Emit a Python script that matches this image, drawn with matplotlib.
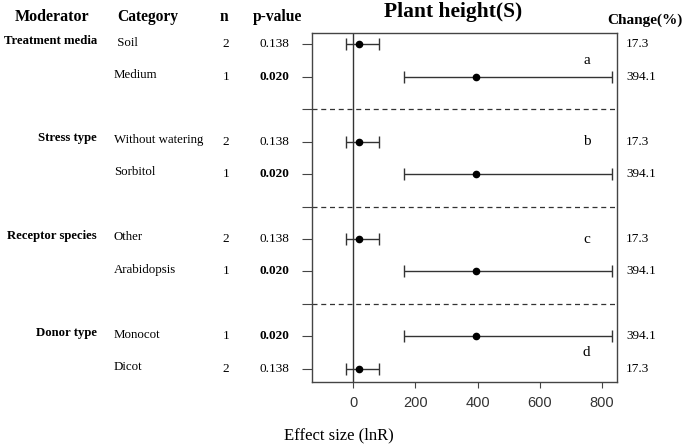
import matplotlib
matplotlib.use("Agg")
import matplotlib.pyplot as plt
import matplotlib.transforms as mtransforms
import numpy as np

# data
moderators = ["Treatment media", "Stress type", "Receptor species", "Donor type"]
categories = ["Soil", "Medium", "Without watering", "Sorbitol",
              "Other", "Arabidopsis", "Monocot", "Dicot"]
n_obs = [2, 1, 2, 1, 2, 1, 1, 2]
p_values = ["0.138", "0.020", "0.138", "0.020", "0.138", "0.020", "0.020", "0.138"]
effect = [17.3, 394.1, 17.3, 394.1, 17.3, 394.1, 394.1, 17.3]
ci_low = [-24, 164, -24, 164, -24, 164, 164, -24]
ci_high = [84, 831, 84, 831, 84, 831, 831, 84]
change = ["17.3", "394.1", "17.3", "394.1", "17.3", "394.1", "394.1", "17.3"]
letters = ["a", "b", "c", "d"]

# row layout (top to bottom)
rows = [11, 10, 8, 7, 5, 4, 2, 1]
separators = [9, 6, 3]
mod_rows = [11, 8, 5, 2]
letter_rows = [10.5, 8, 5, 1.5]

serif = "Liberation Serif"
sans = "Liberation Sans"
axcol = "#444444"

fig = plt.figure(figsize=(6.85, 4.45), dpi=100, facecolor="white")
ax = fig.add_axes([0.455, 0.142, 0.445, 0.784])

x = np.array(effect)
err = [x - np.array(ci_low), np.array(ci_high) - x]
ax.errorbar(x, rows, xerr=err, fmt="o", color="black", ecolor="#333333",
            elinewidth=1.0, capsize=4, capthick=1.0, markersize=4.5)

ax.axvline(0, color="#333333", lw=1.0)
for s in separators:
    ax.axhline(s, color="#333333", lw=0.9, ls=(0, (4, 3)))

for lt, ly in zip(letters, letter_rows):
    ax.text(751, ly, lt, family=serif, fontsize=11, ha="center", va="center")

ax.set_xlim(-134, 847)
ax.set_ylim(0.6, 11.35)
ax.set_xticks([0, 200, 400, 600, 800])
ax.set_yticks(sorted(rows + separators))
ax.set_yticklabels([])
ax.tick_params(axis="x", labelsize=10.5, colors=axcol, length=4, width=0.8, pad=6)
ax.tick_params(axis="y", length=7, width=0.8, colors=axcol)
for lab in ax.get_xticklabels():
    lab.set_family(sans)
    lab.set_color("#333333")
for sp in ax.spines.values():
    sp.set_color(axcol)
    sp.set_linewidth(1.0)

# side columns, x in figure pixels, y in data units
tr = mtransforms.blended_transform_factory(fig.transFigure, ax.transData)
W = 685.0

for m, r in zip(moderators, mod_rows):
    ax.text(97 / W, r + 0.1, m, transform=tr, family=serif, fontsize=9.2,
            fontweight="bold", ha="right", va="center", clip_on=False)

for i, r in enumerate(rows):
    ax.text(114 / W, r + 0.05, categories[i] if i else " " + categories[i],
            transform=tr, family=serif, fontsize=9.3, ha="left", va="center",
            clip_on=False)
    ax.text(226 / W, r, str(n_obs[i]), transform=tr, family=serif,
            fontsize=9.5, ha="center", va="center", clip_on=False)
    bold = float(p_values[i]) < 0.05
    ax.text(274 / W, r, p_values[i], transform=tr, family=serif, fontsize=9.5,
            fontweight="bold" if bold else "normal", ha="center", va="center",
            clip_on=False)
    ax.text(626 / W, r, change[i], transform=tr, family=serif, fontsize=9.5,
            ha="left", va="center", clip_on=False)

# headers
H = 445.0
hy = 1 - 17 / H
fig.text(15 / W, hy, "Moderator", family=serif, fontsize=11.5, fontweight="bold",
         ha="left", va="center")
fig.text(117 / W, hy, "Category", family=serif, fontsize=11.2, fontweight="bold",
         ha="left", va="center")
fig.text(224 / W, hy, "n", family=serif, fontsize=11.2, fontweight="bold",
         ha="center", va="center")
fig.text(277 / W, hy, "p-value", family=serif, fontsize=11.2, fontweight="bold",
         ha="center", va="center")
fig.text(645 / W, 1 - 20 / H, "Change(%)", family=serif, fontsize=11,
         fontweight="bold", ha="center", va="center")
fig.text(453 / W, 1 - 12 / H, "Plant height(S)", family=serif, fontsize=15.5,
         fontweight="bold", ha="center", va="center")
fig.text(339 / W, 1 - 435 / H, "Effect size (lnR)", family=serif, fontsize=12,
         ha="center", va="center")

fig.savefig("out.png", dpi=100)
